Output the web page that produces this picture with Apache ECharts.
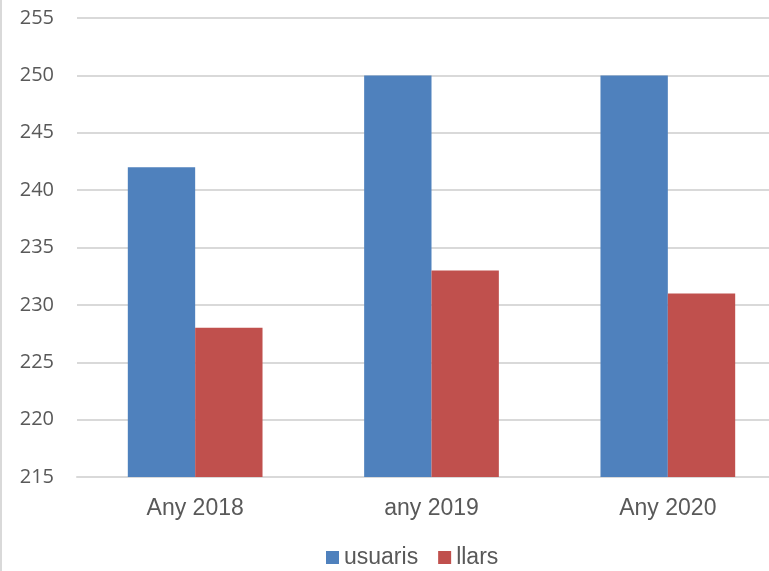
<!DOCTYPE html>
<html lang="ca">
<head>
<meta charset="utf-8">
<title>usuaris i llars</title>
<script src="https://cdn.jsdelivr.net/npm/echarts@6/dist/echarts.min.js"></script>
<style>
  html, body { margin: 0; padding: 0; background: #fff; overflow: hidden; }
  /* the plot runs past the right edge of the picture, so the chart is drawn wider and clipped */
  #chart { width: 786px; height: 571px; }
</style>
</head>
<body>
<div id="chart"></div>
<script>
// data
const categories = ['Any 2018', 'any 2019', 'Any 2020'];
const usuaris = [242, 250, 250];
const llars = [228, 233, 231];

const chart = echarts.init(document.getElementById('chart'));
chart.setOption({
  animation: false,
  graphic: [
    // thin grey frame edge on the left
    { type: 'rect', left: 0, top: 0, shape: { width: 2, height: 571 }, style: { fill: '#D9D9D9' } }
  ],
  grid: { left: 77, right: 0, top: 18, bottom: 94, containLabel: false },
  legend: {
    top: 541,
    left: 321,
    itemWidth: 13,
    itemHeight: 13,
    itemGap: 20,
    icon: 'rect',
    textStyle: { fontFamily: 'Liberation Sans', fontSize: 23, color: '#595959' },
    data: ['usuaris', 'llars']
  },
  xAxis: {
    type: 'category',
    data: categories,
    axisTick: { show: false },
    axisLine: { lineStyle: { color: '#D9D9D9', width: 2 } },
    axisLabel: { fontFamily: 'Liberation Sans', fontSize: 23, color: '#595959', margin: 20 }
  },
  yAxis: {
    type: 'value',
    min: 215,
    max: 255,
    interval: 5,
    axisLine: { show: false },
    axisTick: { show: false },
    splitLine: { lineStyle: { color: '#D9D9D9', width: 2 } },
    axisLabel: { fontFamily: 'Open Sans', fontSize: 20, color: '#595959', margin: 23 }
  },
  series: [
    {
      name: 'usuaris', type: 'bar', data: usuaris,
      itemStyle: { color: '#4F81BD' },
      barGap: '0%', barCategoryGap: '43%'
    },
    {
      name: 'llars', type: 'bar', data: llars,
      itemStyle: { color: '#C0504D' }
    }
  ]
});
</script>
</body>
</html>
